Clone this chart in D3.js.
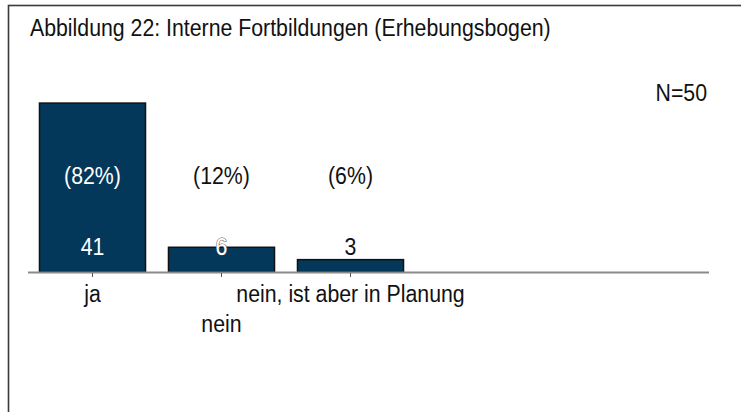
<!DOCTYPE html>
<html>
<head>
<meta charset="utf-8">
<script src="https://cdn.jsdelivr.net/npm/d3@7"></script>
<style>
  html, body { margin: 0; padding: 0; background: #fff; }
  svg { display: block; font-family: "Liberation Sans", Arial, sans-serif; }
</style>
</head>
<body>
<svg id="chart" width="741" height="412"></svg>
<script>
const title = "Abbildung 22: Interne Fortbildungen (Erhebungsbogen)";
const nLabel = "N=50";
const categories = ["ja", "nein", "nein, ist aber in Planung"];
const values = [41, 6, 3];
const percentLabels = ["(82%)", "(12%)", "(6%)"];
const yDomain = [0, 50];

const svg = d3.select("#chart");
const W = 741, H = 412;
const FS = 21.3, SY = 1.1;
const place = (px, py) => `translate(${px},${py}) scale(1,${SY})`;

// frame
svg.append("rect")
  .attr("x", 8.5).attr("y", 5.5)
  .attr("width", W + 10).attr("height", H + 10)
  .attr("fill", "none").attr("stroke", "#3a3a3a").attr("stroke-width", 1.6);

// title
svg.append("text")
  .attr("transform", place(30, 36))
  .attr("font-size", FS).attr("fill", "#111")
  .text(title);

svg.append("text")
  .attr("transform", place(707, 101))
  .attr("text-anchor", "end")
  .attr("font-size", FS).attr("fill", "#111")
  .text(nLabel);

const plotLeft = 28, plotRight = 709, baseY = 272;

const x = d3.scaleBand()
  .domain(categories)
  .range([plotLeft, plotLeft + 129 * categories.length])
  .paddingInner(0.178)
  .paddingOuter(0.089);

const y = d3.scaleLinear().domain(yDomain).range([baseY, 66]);

// bars
svg.append("g").selectAll("rect")
  .data(categories)
  .join("rect")
  .attr("x", d => x(d))
  .attr("y", (d, i) => y(values[i]))
  .attr("width", x.bandwidth())
  .attr("height", (d, i) => y(0) - y(values[i]))
  .attr("fill", "#04385a")
  .attr("stroke", "#111")
  .attr("stroke-width", 1.5);

// baseline
svg.append("line")
  .attr("x1", plotLeft).attr("x2", plotRight)
  .attr("y1", baseY + 0.5).attr("y2", baseY + 0.5)
  .attr("stroke", "#8a8a8a").attr("stroke-width", 2);

// ticks via axis
const axis = svg.append("g")
  .attr("transform", `translate(0,${baseY + 1})`)
  .call(d3.axisBottom(x).tickSizeInner(4).tickSizeOuter(0).tickFormat(""));
axis.select(".domain").remove();
axis.selectAll(".tick line").attr("stroke", "#555").attr("stroke-width", 1);

const cx = d => x(d) + x.bandwidth() / 2;

// percent labels
svg.append("g").selectAll("text")
  .data(categories)
  .join("text")
  .attr("transform", d => place(cx(d), 184))
  .attr("text-anchor", "middle")
  .attr("font-size", FS)
  .attr("fill", (d, i) => y(values[i]) < 165 ? "#fff" : "#111")
  .text((d, i) => percentLabels[i]);

// value labels
svg.append("g").selectAll("text")
  .data(categories)
  .join("text")
  .attr("transform", d => place(cx(d), 255))
  .attr("text-anchor", "middle")
  .attr("font-size", FS)
  .attr("fill", (d, i) => y(values[i]) < 252 ? "#fff" : "#111")
  .attr("stroke", (d, i) => (y(values[i]) >= 238 && y(values[i]) < 252) ? "#555" : "none")
  .attr("stroke-width", 1)
  .attr("paint-order", "stroke")
  .text((d, i) => values[i]);

// category labels (staggered)
svg.append("g").selectAll("text")
  .data(categories)
  .join("text")
  .attr("transform", (d, i) => place(cx(d), i % 2 === 1 ? 332 : 302))
  .attr("text-anchor", "middle")
  .attr("font-size", FS)
  .attr("fill", "#111")
  .text(d => d);
</script>
</body>
</html>
